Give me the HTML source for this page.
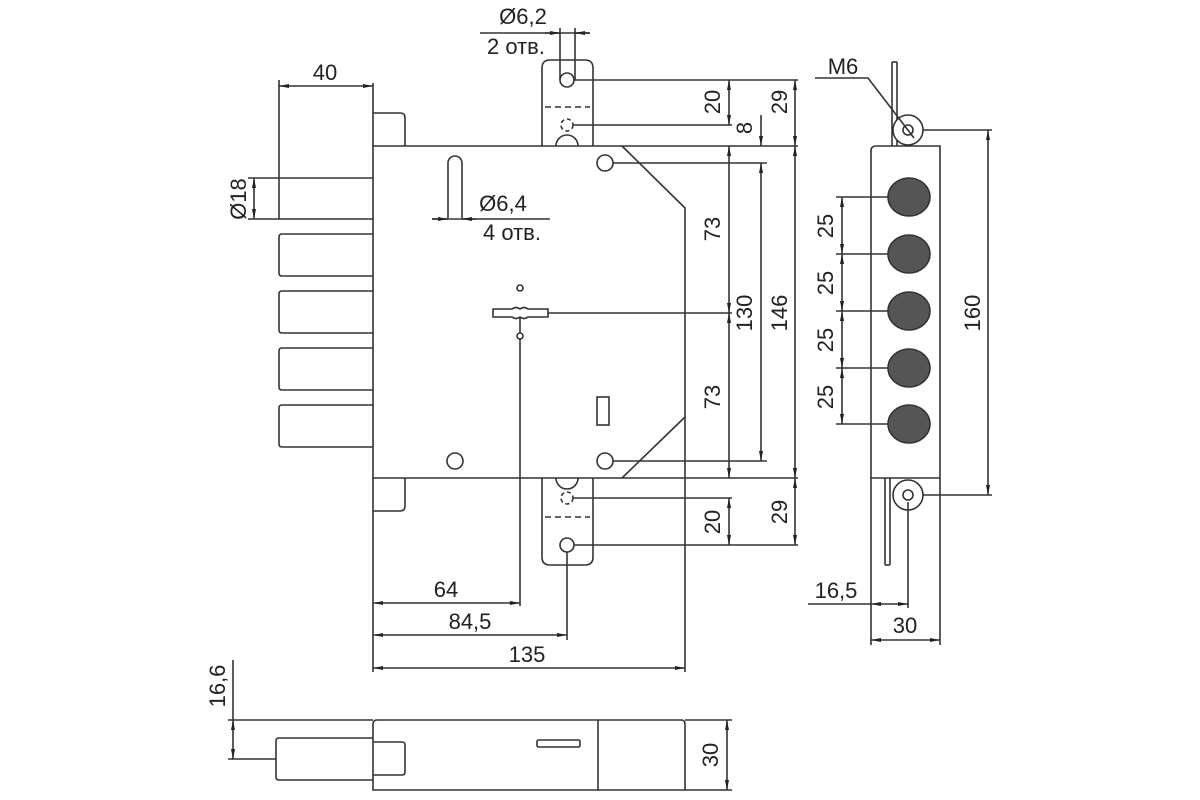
<!DOCTYPE html>
<html><head><meta charset="utf-8"><style>
html,body{margin:0;padding:0;background:#fff;}
svg{display:block;}
text{font-family:"Liberation Sans",Arial,sans-serif;font-size:22px;fill:#222;}
</style></head><body>
<svg width="1200" height="800" viewBox="0 0 1200 800" xmlns="http://www.w3.org/2000/svg">
<defs>
<marker id="a" viewBox="0 0 10 6" refX="10" refY="3" markerWidth="10" markerHeight="6" orient="auto-start-reverse" markerUnits="userSpaceOnUse"><path d="M0,1 L10,3 L0,5z" fill="#222"/></marker>
</defs>
<g fill="none" stroke="#333" stroke-width="1.6">
<line x1="373" y1="83" x2="373" y2="672"/>
<line x1="373" y1="146" x2="798" y2="146"/>
<line x1="373" y1="478" x2="798" y2="478"/>
<polyline points="622,146 685,208 685,672"/>
<line x1="685" y1="417" x2="622" y2="478"/>
<path d="M373,113 H400 Q405,113 405,118 V146"/>
<path d="M373,511 H400 Q405,511 405,506 V478"/>
<line x1="279" y1="178" x2="373" y2="178"/><line x1="279" y1="219" x2="373" y2="219"/>
<path d="M373,234 H282 Q279,234 279,237 V273 Q279,276 282,276 H373"/>
<path d="M373,291 H282 Q279,291 279,294 V330 Q279,333 282,333 H373"/>
<path d="M373,348 H282 Q279,348 279,351 V387 Q279,390 282,390 H373"/>
<path d="M373,405 H282 Q279,405 279,408 V444 Q279,447 282,447 H373"/>
<line x1="279" y1="80" x2="279" y2="219"/>
<line x1="279" y1="86" x2="373" y2="86" marker-start="url(#a)" marker-end="url(#a)"/>
<line x1="248" y1="178" x2="279" y2="178"/><line x1="248" y1="219" x2="279" y2="219"/>
<line x1="254" y1="178" x2="254" y2="219" marker-start="url(#a)" marker-end="url(#a)"/>
<path d="M542,146 V68 Q542,60 550,60 H585 Q593,60 593,68 V146"/>
<circle cx="567" cy="80" r="7"/>
<line x1="545" y1="107" x2="590" y2="107" stroke-dasharray="6,4"/>
<circle cx="567" cy="125" r="6" stroke-dasharray="4,3"/>
<path d="M556,146 A11,11 0 0 1 578,146"/>
<line x1="560" y1="28" x2="560" y2="80"/><line x1="575" y1="28" x2="575" y2="80"/>
<line x1="480" y1="33" x2="590" y2="33"/>
<line x1="545" y1="33" x2="560" y2="33" marker-end="url(#a)"/>
<line x1="590" y1="33" x2="575" y2="33" marker-end="url(#a)"/>
<line x1="574" y1="80" x2="798" y2="80"/>
<line x1="573" y1="125" x2="732" y2="125"/>
<line x1="729" y1="80" x2="729" y2="125" marker-start="url(#a)" marker-end="url(#a)"/>
<line x1="761" y1="115" x2="761" y2="146" marker-end="url(#a)"/>
<line x1="795" y1="80" x2="795" y2="146" marker-start="url(#a)" marker-end="url(#a)"/>
<path d="M448,218 V163 A7,7 0 0 1 462,163 V218"/>
<circle cx="605" cy="163" r="8"/>
<circle cx="455" cy="461" r="8"/>
<circle cx="605" cy="461" r="8"/>
<line x1="613" y1="163" x2="767" y2="163"/>
<line x1="613" y1="461" x2="767" y2="461"/>
<line x1="432" y1="219" x2="550" y2="219"/>
<line x1="432" y1="219" x2="448" y2="219" marker-end="url(#a)"/>
<line x1="476" y1="219" x2="462" y2="219" marker-end="url(#a)"/>
<circle cx="520" cy="288" r="3"/>
<path d="M493,309 H512 Q516,306 520,309 Q524,306 528,309 H548 V317 H528 Q524,320 520,317 Q516,320 512,317 H493 Z"/>
<line x1="548" y1="313" x2="732" y2="313"/>
<line x1="520" y1="318" x2="520" y2="606"/>
<circle cx="520" cy="336" r="3" fill="#fff"/>
<rect x="597" y="397" width="12" height="28"/>
<line x1="729" y1="146" x2="729" y2="313" marker-start="url(#a)" marker-end="url(#a)"/>
<line x1="729" y1="313" x2="729" y2="478" marker-start="url(#a)" marker-end="url(#a)"/>
<line x1="761" y1="163" x2="761" y2="461" marker-start="url(#a)" marker-end="url(#a)"/>
<line x1="795" y1="146" x2="795" y2="478" marker-start="url(#a)" marker-end="url(#a)"/>
<path d="M542,478 V557 Q542,565 550,565 H585 Q593,565 593,557 V478"/>
<circle cx="567" cy="545" r="7"/>
<line x1="545" y1="517" x2="590" y2="517" stroke-dasharray="6,4"/>
<circle cx="567" cy="498" r="6" stroke-dasharray="4,3"/>
<path d="M556,478 A11,11 0 0 0 578,478"/>
<line x1="573" y1="498" x2="732" y2="498"/>
<line x1="574" y1="545" x2="798" y2="545"/>
<line x1="729" y1="498" x2="729" y2="545" marker-start="url(#a)" marker-end="url(#a)"/>
<line x1="795" y1="478" x2="795" y2="545" marker-start="url(#a)" marker-end="url(#a)"/>
<line x1="567" y1="552" x2="567" y2="640"/>
<line x1="373" y1="603" x2="520" y2="603" marker-start="url(#a)" marker-end="url(#a)"/>
<line x1="373" y1="635" x2="567" y2="635" marker-start="url(#a)" marker-end="url(#a)"/>
<line x1="373" y1="668" x2="685" y2="668" marker-start="url(#a)" marker-end="url(#a)"/>
<line x1="228" y1="720" x2="373" y2="720"/>
<line x1="685" y1="720" x2="732" y2="720"/>
<line x1="685" y1="790" x2="732" y2="790"/>
<path d="M373,790 V724 Q373,720 377,720 H681 Q685,720 685,724 V790 Z"/>
<line x1="598" y1="720" x2="598" y2="790"/>
<rect x="537" y="740" width="43" height="7" rx="1.5"/>
<path d="M373,738 H279 Q276,738 276,741 V777 Q276,780 279,780 H373"/>
<path d="M373,742 H402 Q405,742 405,745 V772 Q405,775 402,775 H373"/>
<line x1="233" y1="660" x2="233" y2="720"/>
<line x1="228" y1="759" x2="276" y2="759"/>
<line x1="233" y1="720" x2="233" y2="759" marker-start="url(#a)" marker-end="url(#a)"/>
<line x1="727" y1="720" x2="727" y2="790" marker-start="url(#a)" marker-end="url(#a)"/>
<line x1="892" y1="62" x2="892" y2="146"/><line x1="897" y1="62" x2="897" y2="146"/><line x1="892" y1="62" x2="897" y2="62"/>
<line x1="885" y1="478" x2="885" y2="565"/><line x1="890" y1="478" x2="890" y2="565"/><line x1="885" y1="565" x2="890" y2="565"/>
<path d="M871,478 V151 Q871,146 876,146 H940 V478 Z" fill="#fff"/>
<circle cx="908" cy="130" r="15" fill="#fff"/><circle cx="908" cy="130" r="5"/>
<circle cx="908" cy="495" r="15" fill="#fff"/><circle cx="908" cy="495" r="5"/>
<g fill="#555" stroke="#333">
<ellipse cx="909" cy="197" rx="21" ry="19"/>
<ellipse cx="909" cy="254" rx="21" ry="19"/>
<ellipse cx="909" cy="311" rx="21" ry="19"/>
<ellipse cx="909" cy="368" rx="21" ry="19"/>
<ellipse cx="909" cy="424" rx="21" ry="19"/>
</g>
<line x1="836" y1="197" x2="888" y2="197"/>
<line x1="836" y1="254" x2="888" y2="254"/>
<line x1="836" y1="311" x2="888" y2="311"/>
<line x1="836" y1="368" x2="888" y2="368"/>
<line x1="836" y1="424" x2="888" y2="424"/>
<line x1="842" y1="197" x2="842" y2="254" marker-start="url(#a)" marker-end="url(#a)"/>
<line x1="842" y1="254" x2="842" y2="311" marker-start="url(#a)" marker-end="url(#a)"/>
<line x1="842" y1="311" x2="842" y2="368" marker-start="url(#a)" marker-end="url(#a)"/>
<line x1="842" y1="368" x2="842" y2="424" marker-start="url(#a)" marker-end="url(#a)"/>
<line x1="923" y1="130" x2="992" y2="130"/>
<line x1="923" y1="495" x2="992" y2="495"/>
<line x1="988" y1="130" x2="988" y2="495" marker-start="url(#a)" marker-end="url(#a)"/>
<polyline points="815,78 868,78 914,138"/>
<line x1="871" y1="478" x2="871" y2="645"/>
<line x1="940" y1="478" x2="940" y2="645"/>
<line x1="908" y1="502" x2="908" y2="608"/>
<line x1="808" y1="604" x2="871" y2="604"/>
<line x1="871" y1="604" x2="908" y2="604" marker-start="url(#a)" marker-end="url(#a)"/>
<line x1="871" y1="640" x2="940" y2="640" marker-start="url(#a)" marker-end="url(#a)"/>
</g>
<text x="325" y="80" text-anchor="middle">40</text>
<text transform="translate(246,199) rotate(-90)" text-anchor="middle">Ø18</text>
<text x="523" y="24" text-anchor="middle">Ø6,2</text>
<text x="516" y="54" text-anchor="middle">2 отв.</text>
<text x="503" y="211" text-anchor="middle">Ø6,4</text>
<text x="512" y="240" text-anchor="middle">4 отв.</text>
<text transform="translate(720,102) rotate(-90)" text-anchor="middle">20</text>
<text transform="translate(752,128) rotate(-90)" text-anchor="middle">8</text>
<text transform="translate(787,102) rotate(-90)" text-anchor="middle">29</text>
<text transform="translate(720,229) rotate(-90)" text-anchor="middle">73</text>
<text transform="translate(720,397) rotate(-90)" text-anchor="middle">73</text>
<text transform="translate(752,313) rotate(-90)" text-anchor="middle">130</text>
<text transform="translate(787,313) rotate(-90)" text-anchor="middle">146</text>
<text transform="translate(720,522) rotate(-90)" text-anchor="middle">20</text>
<text transform="translate(787,512) rotate(-90)" text-anchor="middle">29</text>
<text x="446" y="597" text-anchor="middle">64</text>
<text x="470" y="629" text-anchor="middle">84,5</text>
<text x="527" y="662" text-anchor="middle">135</text>
<text transform="translate(225,686) rotate(-90)" text-anchor="middle">16,6</text>
<text transform="translate(718,755) rotate(-90)" text-anchor="middle">30</text>
<text x="843" y="74" text-anchor="middle">M6</text>
<text transform="translate(833,226) rotate(-90)" text-anchor="middle">25</text>
<text transform="translate(833,283) rotate(-90)" text-anchor="middle">25</text>
<text transform="translate(833,340) rotate(-90)" text-anchor="middle">25</text>
<text transform="translate(833,397) rotate(-90)" text-anchor="middle">25</text>
<text transform="translate(980,313) rotate(-90)" text-anchor="middle">160</text>
<text x="836" y="598" text-anchor="middle">16,5</text>
<text x="905" y="633" text-anchor="middle">30</text>
</svg>
</body></html>
